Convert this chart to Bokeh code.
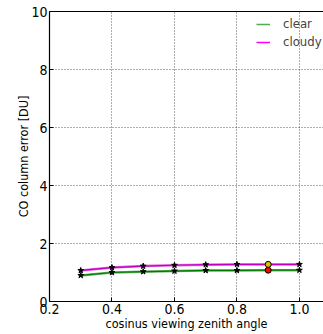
from bokeh.plotting import figure
from bokeh.models import Range1d, LinearAxis, FixedTicker, Legend, LegendItem, PrintfTickFormatter
from bokeh.embed import file_html
from bokeh.resources import INLINE

mu = [0.3, 0.4, 0.5, 0.6, 0.7, 0.8, 0.9, 1.0]
clear = [0.90, 1.00, 1.03, 1.05, 1.07, 1.07, 1.08, 1.08]
cloudy = [1.07, 1.17, 1.22, 1.25, 1.27, 1.28, 1.28, 1.28]
highlight_mu = [0.9]
highlight_clear = [1.08]
highlight_cloudy = [1.28]
x_ticks = [0.2, 0.4, 0.6, 0.8, 1.0]
y_ticks = [0, 2, 4, 6, 8, 10]

FONT = "DejaVu Sans Condensed"

p = figure(width=323, height=334, output_backend="svg", toolbar_location=None,
           x_range=Range1d(0.2, 1.077), y_range=Range1d(0, 10),
           min_border_left=49, min_border_right=0, min_border_top=11, min_border_bottom=33,
           x_axis_location=None, y_axis_location=None)
p.outline_line_color = None
p.background_fill_color = "white"
p.border_fill_color = "white"

xaxis = LinearAxis(ticker=FixedTicker(ticks=x_ticks), axis_label="cosinus viewing zenith angle",
                   formatter=PrintfTickFormatter(format="%.1f"))
yaxis = LinearAxis(ticker=FixedTicker(ticks=y_ticks), axis_label="CO column error [DU]")
top = LinearAxis(ticker=FixedTicker(ticks=x_ticks))
for ax in (xaxis, yaxis):
    ax.major_label_text_font = FONT
    ax.major_label_text_font_size = "14px"
    ax.major_label_text_color = "black"
    ax.axis_label_text_font = FONT
    ax.axis_label_text_font_size = "12.5px"
    ax.axis_label_text_font_style = "normal"
    ax.axis_label_text_color = "black"
    ax.axis_line_color = "black"
    ax.axis_line_width = 1.2
    ax.major_tick_in = 4
    ax.major_tick_out = 0
    ax.minor_tick_line_color = None
    ax.major_tick_line_color = "black"
xaxis.major_label_standoff = 2
xaxis.axis_label_standoff = -1
yaxis.major_label_standoff = 2
yaxis.axis_label_standoff = -3
top.major_label_text_font_size = "0px"
top.major_tick_in = 0
top.major_tick_out = 0
top.minor_tick_line_color = None
top.major_label_standoff = 0
top.axis_line_color = "black"
top.axis_line_width = 1.2
p.add_layout(xaxis, "below")
p.add_layout(yaxis, "left")
p.add_layout(top, "above")

p.xgrid.ticker = FixedTicker(ticks=x_ticks)
p.ygrid.ticker = FixedTicker(ticks=y_ticks)
for g in (p.xgrid, p.ygrid):
    g.grid_line_color = "black"
    g.grid_line_dash = "1 2"
    g.grid_line_width = 0.8
    g.grid_line_alpha = 0.8

# lines (light wide + dark thin overlaid)
p.line(mu, clear, line_color="#66b366", line_width=2.5)
p.line(mu, clear, line_color="#007a00", line_width=1.2)
p.line(mu, cloudy, line_color="#e060e0", line_width=2.5)
p.line(mu, cloudy, line_color="#c000c0", line_width=1.2)

p.scatter(mu, clear, marker="star", size=6, fill_color="black", line_color="black")
p.scatter(mu, cloudy, marker="star", size=6, fill_color="black", line_color="black")
p.scatter(highlight_mu, highlight_clear, marker="circle", size=6, fill_color="red", line_color="black")
p.scatter(highlight_mu, highlight_cloudy, marker="circle", size=6, fill_color="#d4c400", line_color="black")

nan = float("nan")
leg_clear = p.line([0.5], [nan], line_color="#4caf50", line_width=1.5)
leg_cloudy = p.line([0.5], [nan], line_color="#ff00ff", line_width=1.5)
legend = Legend(items=[LegendItem(label="clear", renderers=[leg_clear]),
                       LegendItem(label="cloudy", renderers=[leg_cloudy])],
                location=(207, 252))
legend.border_line_color = None
legend.background_fill_alpha = 0
legend.label_text_font = FONT
legend.label_text_font_size = "13px"
legend.glyph_width = 14
legend.glyph_height = 14
legend.label_standoff = 13
legend.label_height = 14
legend.spacing = 3
legend.margin = 0
legend.padding = 0
p.add_layout(legend)

open("out.html", "w").write(file_html(p, INLINE))
